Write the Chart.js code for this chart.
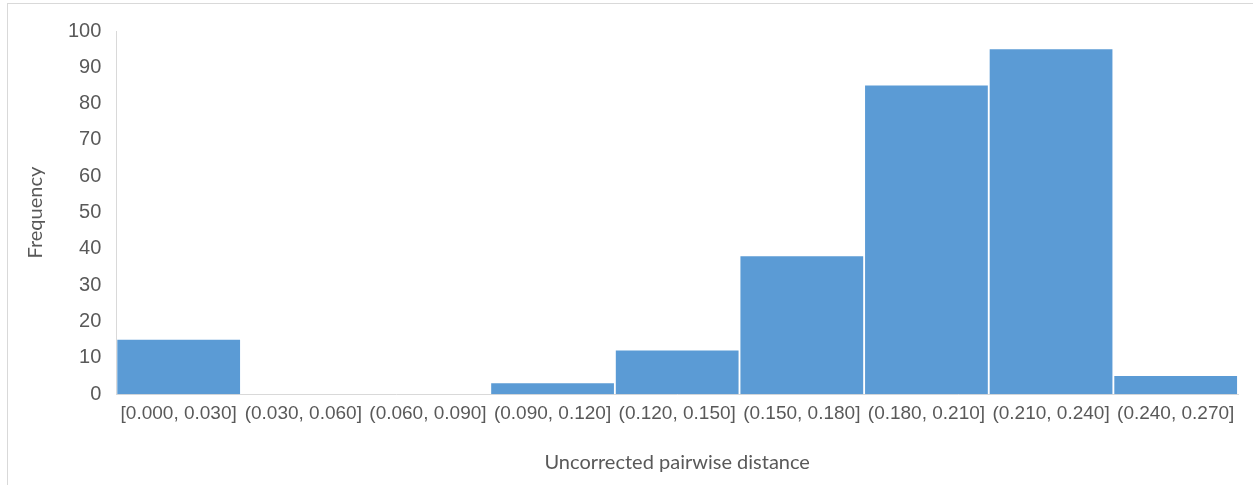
<!DOCTYPE html>
<html>
<head>
<meta charset="utf-8">
<script src="https://cdn.jsdelivr.net/npm/chart.js@4"></script>
<style>
  html, body { margin: 0; padding: 0; background: #fff; }
  #frame {
    position: absolute; left: 7px; top: 3px; width: 1246px; height: 482px;
    border-top: 1px solid #d9d9d9; border-left: 1px solid #d9d9d9;
  }
  #wrap { position: absolute; left: 0; top: 0; width: 1246px; height: 482px; }
</style>
</head>
<body>
<div id="frame"><div id="wrap"><canvas id="myChart"></canvas></div></div>
<script>
const bins = ['[0.000, 0.030]', '(0.030, 0.060]', '(0.060, 0.090]', '(0.090, 0.120]', '(0.120, 0.150]',
  '(0.150, 0.180]', '(0.180, 0.210]', '(0.210, 0.240]', '(0.240, 0.270]'];
const frequency = [15, 0, 0, 3, 12, 38, 85, 95, 5];
const yTicks = [0, 10, 20, 30, 40, 50, 60, 70, 80, 90, 100];

const ctx = document.getElementById('myChart').getContext('2d');

new Chart(ctx, {
  type: 'bar',
  data: {
    labels: bins,
    datasets: [{
      label: 'Frequency',
      backgroundColor: '#5b9bd5',
      data: frequency,
      barPercentage: 0.985,  // thin white gap between bins
      categoryPercentage: 1
    }]
  },
  options: {
    responsive: true,
    maintainAspectRatio: false,
    animation: false,
    layout: { padding: { top: 16, right: 16, bottom: 7, left: 12 } },
    plugins: { legend: { display: false }, tooltip: { enabled: false } },
    scales: {
      x: {
        grid: { display: false, drawTicks: false },
        border: { color: '#d9d9d9' },
        ticks: {
          color: '#595959', maxRotation: 0, autoSkip: false, padding: 8,
          font: { family: 'Liberation Sans', size: 19 }
        },
        title: {
          display: true, text: 'Uncorrected pairwise distance', color: '#595959',
          font: { family: 'Lato', size: 20 }, padding: { top: 18 }
        }
      },
      y: {
        min: 0, max: 100,
        afterBuildTicks: (axis) => { axis.ticks = yTicks.map(v => ({ value: v })); },
        grid: { display: false, drawTicks: false },
        border: { color: '#d9d9d9' },
        ticks: {
          color: '#595959', padding: 15,
          font: { family: 'Liberation Sans', size: 20 }
        },
        title: {
          display: true, text: 'Frequency', color: '#595959',
          font: { family: 'Lato', size: 20 }, padding: { bottom: 5 }
        }
      }
    }
  }
});
</script>
</body>
</html>
